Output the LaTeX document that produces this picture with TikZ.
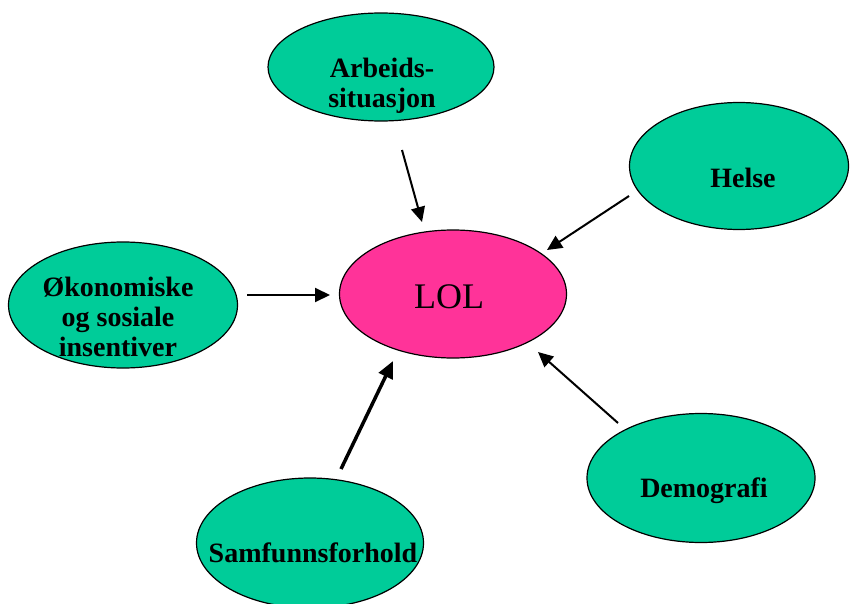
\documentclass[tikz,border=0pt]{standalone}
\usepackage{fontspec}
\setmainfont{Liberation Serif}
\usetikzlibrary{shapes.geometric,arrows.meta}
\definecolor{fgreen}{RGB}{0,204,153}
\definecolor{fpink}{RGB}{255,51,153}
\tikzset{
  factor/.style={ellipse,draw=black,line width=1.2pt,fill=fgreen,inner sep=0pt,minimum width=228pt,minimum height=128pt},
  lbl/.style={font=\fontsize{28}{30}\selectfont\bfseries,align=center,inner sep=0pt},
  conn/.style={line width=2pt,-{Triangle[length=15pt,width=14pt]}},
  thickconn/.style={line width=3.5pt,-{Triangle[length=17pt,width=15pt]}}
}
\begin{document}
\begin{tikzpicture}[x=1pt,y=-1pt]
\useasboundingbox (0,0) rectangle (850,604);
% ellipses
\node[factor,minimum width=226pt,minimum height=108pt] (arb) at (381,67) {};
\node[factor,minimum width=219pt,minimum height=127pt] (hel) at (739,166) {};
\node[factor,minimum width=229pt,minimum height=126pt] (oko) at (123,305) {};
\node[ellipse,draw=black,line width=1.2pt,fill=fpink,inner sep=0pt,minimum width=227pt,minimum height=128pt] (lol) at (453,294) {};
\node[factor,minimum width=227pt,minimum height=130pt] (sam) at (310,543) {};
\node[factor,minimum width=228pt,minimum height=129pt] (dem) at (701,478) {};
% labels
\node[lbl] (arbt) at (382,86) {Arbeids-\\situasjon};
\node[lbl] (helt) at (743,178) {Helse};
\node[lbl] (okot) at (118,317) {Økonomiske\\og sosiale\\insentiver};
\node[font=\fontsize{36}{40}\selectfont,inner sep=0pt] (lolt) at (449,297) {LOL};
\node[lbl] (samt) at (313,553) {Samfunnsforhold};
\node[lbl] (demt) at (704,491) {Demografi};
% connector ends
\coordinate (a1) at (402,150); \coordinate (a2) at (422,222);
\coordinate (h1) at (629,196); \coordinate (h2) at (547,250);
\coordinate (o1) at (247,295); \coordinate (o2) at (330,295);
\coordinate (s1) at (341,469); \coordinate (s2) at (393,361);
\coordinate (d1) at (618,423); \coordinate (d2) at (538,352);
\draw[conn] (a1) -- (a2);
\draw[conn] (h1) -- (h2);
\draw[conn] (o1) -- (o2);
\draw[thickconn] (s1) -- (s2);
\draw[conn] (d1) -- (d2);
\end{tikzpicture}
\end{document}
